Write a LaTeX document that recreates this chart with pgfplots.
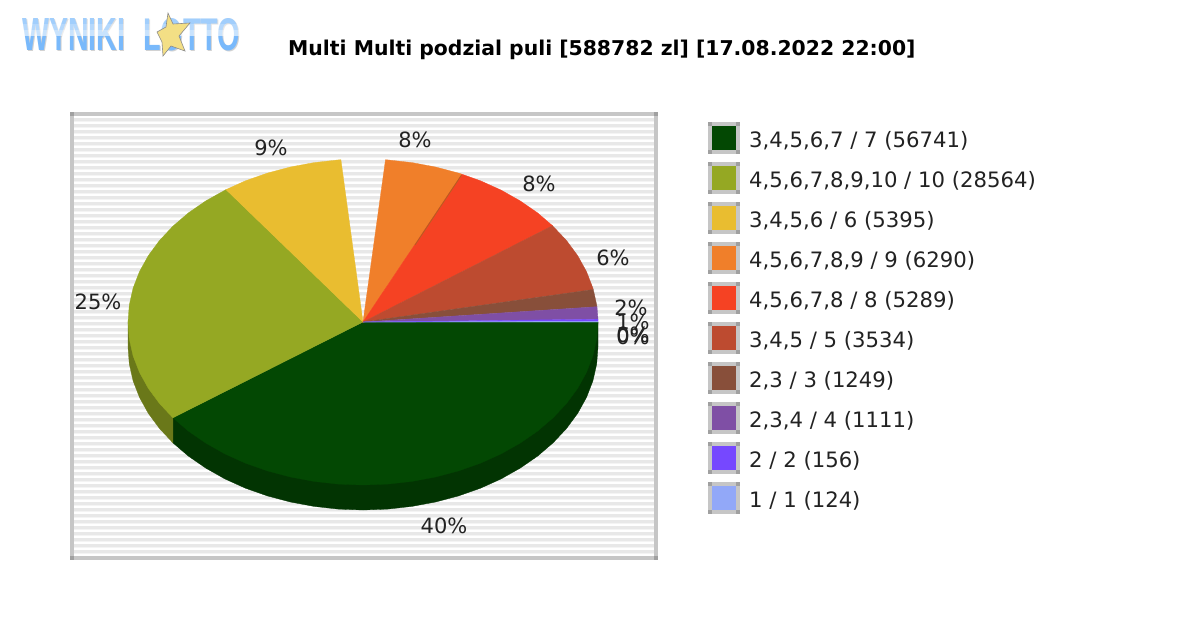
\documentclass[border=0pt]{standalone}
\usepackage{graphicx}
\usepackage{fontspec}
\setmainfont{DejaVu Sans}
\newfontfamily\logofont{Liberation Sans}
\usepackage{pgfplots}
\pgfplotsset{compat=1.18}
\definecolor{cA}{HTML}{034803}\definecolor{wA}{HTML}{023402}
\definecolor{cB}{HTML}{95A823}\definecolor{wB}{HTML}{6A7819}
\definecolor{cC}{HTML}{E9BD30}
\definecolor{cD}{HTML}{F07F2A}
\definecolor{cE}{HTML}{F54223}
\definecolor{cF}{HTML}{BD4B30}
\definecolor{cG}{HTML}{884F3A}
\definecolor{cH}{HTML}{7F4FA5}
\definecolor{cI}{HTML}{7648FF}
\definecolor{cJ}{HTML}{92A8F8}
\definecolor{frame}{HTML}{C6C6C6}\definecolor{corner}{HTML}{A0A0A0}
\definecolor{stripe}{HTML}{E8E8E8}\definecolor{stripeb}{HTML}{F4F4F4}
\definecolor{txt}{HTML}{222222}
\definecolor{logoblue}{HTML}{79B9FB}
\definecolor{star}{HTML}{F3DF85}
\newcommand{\lab}[3]{\node[text=txt,font=\fontsize{21}{24}\selectfont,anchor=center,inner sep=0pt] at (axis cs:#1,#2) {#3};}
\newcommand{\swatch}[3]{%
  \fill[frame] (axis cs:708,#1) rectangle (axis cs:740,#1+32);
  \fill[corner] (axis cs:708,#1) rectangle (axis cs:712,#1+4);
  \fill[corner] (axis cs:736,#1) rectangle (axis cs:740,#1+4);
  \fill[corner] (axis cs:708,#1+28) rectangle (axis cs:712,#1+32);
  \fill[corner] (axis cs:736,#1+28) rectangle (axis cs:740,#1+32);
  \fill[#2] (axis cs:712,#1+4) rectangle (axis cs:736,#1+28);
  \node[text=txt,font=\fontsize{21.2}{24}\selectfont,anchor=base west,inner sep=0pt] at (axis cs:749,#1+25.3) {#3};}
\begin{document}
\begin{tikzpicture}
\begin{axis}[
  scale only axis, width=1200pt, height=630pt,
  xmin=0, xmax=1200, ymin=0, ymax=630, y dir=reverse,
  hide axis, clip=false]
% page
\fill[white] (axis cs:0,0) rectangle (axis cs:1200,630);
% logo
\node[anchor=north west,inner sep=0pt,text=gray!35] at (axis cs:23,19) {\resizebox{103pt}{32pt}{\logofont\bfseries WYNIKI}};
\node[anchor=north west,inner sep=0pt,text=gray!35] at (axis cs:144,19) {\resizebox{97pt}{32pt}{\logofont\bfseries LOTTO}};
\node[anchor=north west,inner sep=0pt,text=logoblue] at (axis cs:22,18) {\resizebox{103pt}{32pt}{\logofont\bfseries WYNIKI}};
\node[anchor=north west,inner sep=0pt,text=logoblue] at (axis cs:143,18) {\resizebox{97pt}{32pt}{\logofont\bfseries LOTTO}};
\fill[white,opacity=.3] (axis cs:18,15) rectangle (axis cs:245,24);
\fill[white,opacity=.45] (axis cs:18,24) rectangle (axis cs:245,30);
\fill[white,opacity=.6] (axis cs:18,30) rectangle (axis cs:245,36);
\addplot[fill=star,draw=black!45,line width=.6pt] coordinates {(168,13)(173,24)(190,23)(179,36)(185,51)(171,46)(163,56)(162,42)(157,32)(166,27)} --cycle;
% title
\node[anchor=base west,inner sep=0pt,text=black,font=\fontsize{20.37}{24}\selectfont\bfseries] at (axis cs:288,55) {Multi Multi podzial puli [588782 zl] [17.08.2022 22:00]};
% panel
\fill[frame] (axis cs:70,112) rectangle (axis cs:658,560);
\fill[white] (axis cs:74,116) rectangle (axis cs:654,556);
\pgfplotsinvokeforeach{0,...,72}{
  \fill[stripeb] (axis cs:74,{117.5+6*#1}) rectangle (axis cs:654,{121.5+6*#1});
  \fill[stripe] (axis cs:74,{118.25+6*#1}) rectangle (axis cs:654,{120.75+6*#1});
}
\fill[corner] (axis cs:70,112) rectangle (axis cs:74,116);
\fill[corner] (axis cs:654,112) rectangle (axis cs:658,116);
\fill[corner] (axis cs:70,556) rectangle (axis cs:74,560);
\fill[corner] (axis cs:654,556) rectangle (axis cs:658,560);
% walls
\addplot[fill=wA,draw=wA,line width=.3pt] coordinates {(598,322)(598,347)(596.7,364)(592.9,380.9)(586.5,397.4)(577.7,413.3)(566.5,428.5)(553.1,442.8)(537.6,456.1)(520.2,468.1)(501.1,478.9)(480.5,488.2)(458.6,495.9)(435.6,502)(411.9,506.4)(387.6,509.1)(363,510)(338.4,509.1)(314.1,506.4)(290.4,502)(267.4,495.9)(245.5,488.2)(224.9,478.9)(205.8,468.1)(188.4,456.1)(172.9,442.8)(172.9,417.8)} --cycle;
\addplot[fill=wB,draw=wB,line width=.3pt] coordinates {(172.9,442.8)(159.5,428.5)(148.3,413.3)(139.5,397.4)(133.1,380.9)(129.3,364)(128,347)(128,322)(172.9,417.8)} --cycle;
% slices
\addplot[fill=cA,draw=cA,line width=.3pt] coordinates {(363,322)(598,322)(596.7,339)(592.9,355.9)(586.5,372.4)(577.7,388.3)(566.5,403.5)(553.1,417.8)(537.6,431.1)(520.2,443.1)(501.1,453.9)(480.5,463.2)(458.6,470.9)(435.6,477)(411.9,481.4)(387.6,484.1)(363,485)(338.4,484.1)(314.1,481.4)(290.4,477)(267.4,470.9)(245.5,463.2)(224.9,453.9)(205.8,443.1)(188.4,431.1)(172.9,417.8)} --cycle;
\addplot[fill=cB,draw=cB,line width=.3pt] coordinates {(363,322)(172.9,417.8)(159.5,403.5)(148.3,388.3)(139.5,372.4)(133.1,355.9)(129.3,339)(128,322)(129.3,305)(133.1,288.1)(139.5,271.6)(148.3,255.7)(159.5,240.5)(172.9,226.2)(188.4,212.9)(205.8,200.9)(226,189.6)} --cycle;
\addplot[fill=cC,draw=cC,line width=.3pt] coordinates {(363,322)(226,189.6)(245.5,180.8)(267.4,173.1)(290.4,167)(314.1,162.6)(338.4,159.9)(340.9,159.7)} --cycle;
\addplot[fill=cD,draw=cD,line width=.3pt] coordinates {(363,322)(385.5,159.7)(387.6,159.9)(411.9,162.6)(435.6,167)(458.6,173.1)(461.9,174.2)} --cycle;
\addplot[fill=cE,draw=cE,line width=.3pt] coordinates {(363,322)(461.9,174.2)(480.5,180.8)(501.1,190.1)(520.2,200.9)(537.6,212.9)(552.5,225.7)} --cycle;
\addplot[fill=cF,draw=cF,line width=.3pt] coordinates {(363,322)(552.5,225.7)(566.5,240.5)(577.7,255.7)(586.5,271.6)(592.9,288.1)(593.3,289.5)} --cycle;
\addplot[fill=cG,draw=cG,line width=.3pt] coordinates {(363,322)(593.3,289.5)(596.7,305)(597,306.7)} --cycle;
\addplot[fill=cH,draw=cH,line width=.3pt] coordinates {(363,322)(597,306.7)(598,319.2)} --cycle;
\addplot[fill=cI,draw=cI,line width=.3pt] coordinates {(363,322)(598,319.2)(598,321.3)} --cycle;
\addplot[fill=cJ,draw=cJ,line width=.1pt] coordinates {(363,322)(598,321.3)(598,322)} --cycle;
\addplot[draw=cD!75!black,line width=.8pt] coordinates {(461.5,175)(415,245)};
% slice labels
\lab{271}{148}{9\%}
\lab{415}{140}{8\%}
\lab{539}{184}{8\%}
\lab{613}{258}{6\%}
\lab{98}{302}{25\%}
\lab{444}{526}{40\%}
\lab{631}{308}{2\%}
\lab{633}{322}{1\%}
\lab{633}{335}{0\%}
\lab{633}{337}{0\%}
% legend
\swatch{122}{cA}{3,4,5,6,7 / 7 (56741)}
\swatch{162}{cB}{4,5,6,7,8,9,10 / 10 (28564)}
\swatch{202}{cC}{3,4,5,6 / 6 (5395)}
\swatch{242}{cD}{4,5,6,7,8,9 / 9 (6290)}
\swatch{282}{cE}{4,5,6,7,8 / 8 (5289)}
\swatch{322}{cF}{3,4,5 / 5 (3534)}
\swatch{362}{cG}{2,3 / 3 (1249)}
\swatch{402}{cH}{2,3,4 / 4 (1111)}
\swatch{442}{cI}{2 / 2 (156)}
\swatch{482}{cJ}{1 / 1 (124)}
\end{axis}
\end{tikzpicture}
\end{document}
